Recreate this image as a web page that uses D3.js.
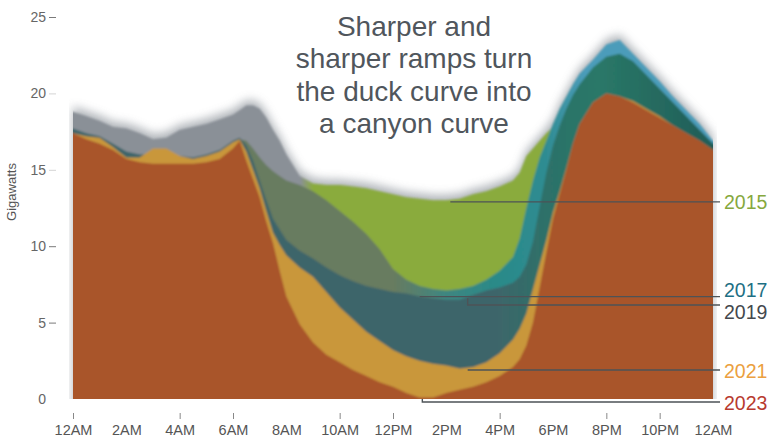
<!DOCTYPE html>
<html>
<head>
<meta charset="utf-8">
<script src="https://cdn.jsdelivr.net/npm/d3@7"></script>
<style>
  html, body { margin: 0; padding: 0; background: #ffffff; }
  svg { display: block; font-family: "Liberation Sans", Arial, sans-serif; }
</style>
</head>
<body>
<svg id="chart" width="776" height="441"></svg>
<script>
// ---------------- data ----------------
const hours = [0,0.5,1,1.5,2,2.5,3,3.5,4,4.5,5,5.5,6,
  6.25,6.5,6.75,7,7.25,7.5,7.75,8,
  8.5,9,9.5,10,10.5,11,11.5,12,12.5,13,13.5,14,14.5,15,15.5,16,16.5,
  16.75,17,17.25,17.5,17.75,18,18.25,18.5,18.75,19,
  19.5,20,20.5,21,21.5,22,22.5,23,23.5,24];

const load2015 = [18.8,18.5,18.2,17.8,17.7,17.4,17.0,17.1,17.6,17.8,18.0,18.3,18.6,
  18.9,19.2,19.2,19.0,18.4,17.6,16.9,16.0,
  14.6,14.1,14.0,14.0,13.9,13.8,13.6,13.4,13.2,13.1,13.0,13.0,13.1,13.4,13.6,13.9,14.3,
  14.8,15.9,16.4,16.9,17.4,17.8,18.0,18.4,18.8,19.2,
  20.0,20.5,20.6,20.3,19.8,19.2,18.6,18.0,17.3,16.5];

const load2017 = [17.4,17.1,16.9,16.4,15.9,15.7,15.7,15.6,15.6,15.5,15.7,16.0,16.6,
  17.0,16.9,16.4,15.8,15.3,14.9,14.6,14.3,
  14.0,13.6,13.0,12.3,11.6,10.8,9.8,8.5,7.8,7.4,7.2,7.1,7.2,7.4,7.8,8.4,9.3,
  10.5,12.5,14.3,15.8,16.9,18.0,19.0,19.8,20.6,21.3,
  22.2,23.2,23.5,22.6,21.7,20.8,19.8,18.9,18.0,16.9];

const load2019 = [17.7,17.4,17.2,16.7,16.2,16.0,16.0,15.9,15.9,15.8,16.0,16.3,16.9,
  17.1,16.6,15.6,14.3,13.0,11.8,11.1,10.4,
  9.7,9.2,8.6,8.1,7.7,7.4,7.2,7.0,6.9,6.7,6.6,6.5,6.5,6.8,7.1,7.3,7.6,
  8.0,8.8,10.3,12.6,14.8,16.6,17.9,19.0,19.9,20.6,
  21.7,22.4,22.6,22.1,21.2,20.3,19.4,18.5,17.6,16.7];

const load2021 = [17.4,17.2,17.1,16.5,15.8,15.8,16.4,16.4,15.9,15.7,15.9,16.2,16.8,
  17.0,16.2,15.0,13.8,12.3,10.9,10.1,9.4,
  8.6,8.0,7.0,6.0,5.2,4.4,3.8,3.2,2.8,2.5,2.3,2.2,2.0,2.1,2.4,3.0,3.9,
  4.6,5.6,7.2,8.8,10.4,12.2,13.6,15.1,16.7,18.0,
  19.4,20.0,19.8,19.5,19.0,18.5,17.9,17.4,16.9,16.3];

const load2023 = [17.4,17.0,16.7,16.3,15.7,15.5,15.4,15.4,15.4,15.4,15.5,15.7,16.4,
  16.9,15.6,14.4,13.2,11.6,10.2,8.4,6.7,
  4.9,3.7,2.9,2.4,1.9,1.5,1.1,0.8,0.4,0.1,0.1,0.4,0.6,0.8,1.1,1.5,2.1,
  2.6,3.5,5.0,7.3,9.6,11.8,13.4,15.0,16.7,18.0,
  19.4,20.0,19.8,19.4,18.9,18.4,17.9,17.4,16.9,16.3];

const years = ["2015","2017","2019","2021","2023"];
const seriesValues = [load2015, load2017, load2019, load2021, load2023];

const xTickHours = [0,2,4,6,8,10,12,14,16,18,20,22,24];
const xTickLabels = ["12AM","2AM","4AM","6AM","8AM","10AM","12PM","2PM","4PM","6PM","8PM","10PM","12AM"];
const xTickMarked = [true,false,true,true,false,true,true,false,true,false,true,true,false];
const yTickValues = [0,5,10,15,20,25];

// leader lines: anchor hour / anchor value / line value
const leaderHours = [14.15, 13.0, 14.8, 14.8, 13.1];
const leaderStart = [12.9, 6.7, 6.6, 1.9, 0];
const leaderLevel = [12.9, 6.7, 6.15, 1.9, -0.2];

const titleLines = ["Sharper and", "sharper ramps turn", "the duck curve into", "a canyon curve"];

// ---------------- styles ----------------
const fillStops = {
  "2015": [[0,"#8a9097"],[0.355,"#8a9097"],[0.375,"#8aab3e"],[1,"#8aab3e"]],
  "2017": [[0,"#687b60"],[0.5,"#687b60"],[0.58,"#3f8680"],[0.66,"#2a8a88"],[0.74,"#2f8c92"],[0.8,"#4b9cba"],[1,"#4b9cba"]],
  "2019": [[0,"#3e656a"],[0.66,"#3e656a"],[0.74,"#2d7169"],[0.82,"#2a7868"],[1,"#215d57"]],
  "2021": [[0,"#c9973b"],[1,"#c9973b"]],
  "2023": [[0,"#a9552b"],[1,"#a9552b"]]
};
const labelColors = ["#86a83e","#1e6f84","#44484d","#eba040","#b83a2f"];
const labelDy = [7, 0.5, 14, 8.5, 8];

// ---------------- chart ----------------
const svg = d3.select("#chart");
const x = d3.scaleLinear().domain([0, 24]).range([73, 713]);
const y = d3.scaleLinear().domain([0, 25]).range([399, 17]);

const defs = svg.append("defs");
years.forEach(yr => {
  const g = defs.append("linearGradient")
    .attr("id", "grad" + yr)
    .attr("gradientUnits", "userSpaceOnUse")
    .attr("x1", x(0)).attr("x2", x(24)).attr("y1", 0).attr("y2", 0);
  fillStops[yr].forEach(([o, c]) => g.append("stop").attr("offset", o).attr("stop-color", c));
});
defs.append("filter").attr("id", "shadow").attr("x", "-20%").attr("y", "-40%").attr("width", "140%").attr("height", "180%")
  .append("feGaussianBlur").attr("stdDeviation", 5);
defs.append("filter").attr("id", "soft").attr("x", "-5%").attr("y", "-5%").attr("width", "110%").attr("height", "110%")
  .append("feGaussianBlur").attr("stdDeviation", 0.9);
defs.append("filter").attr("id", "halo").attr("x", "-30%").attr("y", "-50%").attr("width", "160%").attr("height", "200%")
  .append("feGaussianBlur").attr("stdDeviation", 5);
defs.append("clipPath").attr("id", "plotClip").append("rect")
  .attr("x", x(0)).attr("y", 0).attr("width", x(24) - x(0)).attr("height", y(0));
defs.append("clipPath").attr("id", "shadowClip").append("rect")
  .attr("x", x(0) - 4).attr("y", 0).attr("width", x(24) - x(0) + 8).attr("height", y(0));

// rows for drawing
const rows = hours.map((h, i) => ({h, v: seriesValues.map(s => s[i])}));
// pad ends so blurred edges stay solid inside the clip
const padded = [{h: -0.4, v: rows[0].v}].concat(rows, [{h: 24.4, v: rows[rows.length - 1].v}]);

const maxArea = d3.area().x(d => x(d.h)).y0(y(-1)).y1(d => y(d3.max(d.v) + 0.35));
svg.append("g").attr("clip-path", "url(#shadowClip)")
  .append("path").datum(rows).attr("d", maxArea)
  .attr("fill", "#959ba2").attr("opacity", 0.75).attr("filter", "url(#shadow)");

// title halo
const titleG = svg.append("g");
const titleHalo = titleG.append("g").attr("filter", "url(#halo)");
titleLines.forEach((t, i) => {
  titleHalo.append("text").attr("x", 414).attr("y", 36 + i * 32.4)
    .attr("text-anchor", "middle").attr("font-size", 28)
    .attr("fill", "#fff").attr("stroke", "#fff").attr("stroke-width", 12).attr("stroke-linejoin", "round")
    .text(t);
});

const layers = svg.append("g").attr("clip-path", "url(#plotClip)")
  .append("g").attr("filter", "url(#soft)");
years.forEach((yr, k) => {
  const area = d3.area().x(d => x(d.h)).y0(y(-1)).y1(d => y(d.v[k])).curve(d3.curveLinear);
  layers.append("path").datum(padded).attr("d", area).attr("fill", "url(#grad" + yr + ")");
});

// title text
titleLines.forEach((t, i) => {
  titleG.append("text").attr("x", 414).attr("y", 36 + i * 32.4)
    .attr("text-anchor", "middle").attr("font-size", 28).attr("fill", "#50565c")
    .text(t);
});

// y axis
const yAxis = svg.append("g").attr("transform", "translate(56,0)")
  .call(d3.axisLeft(y).tickValues(yTickValues).tickSize(7).tickPadding(3));
yAxis.select(".domain").remove();
yAxis.selectAll(".tick line").attr("stroke", d => (d === 15 || d === 20) ? "#d4d4d4" : "#7a7a7a")
  .attr("opacity", d => d === 0 ? 0 : 1);
yAxis.selectAll(".tick text").attr("fill", "#666").attr("font-size", 14)
  .attr("font-family", "Liberation Sans, Arial, sans-serif");

svg.append("text").attr("transform", "translate(16,192) rotate(-90)")
  .attr("text-anchor", "middle").attr("font-size", 13).attr("fill", "#555").text("Gigawatts");

// x axis
const xAxis = svg.append("g").attr("transform", "translate(0,413)")
  .call(d3.axisBottom(x).tickValues(xTickHours).tickSize(6).tickPadding(6)
    .tickFormat((d, i) => xTickLabels[i]));
xAxis.select(".domain").remove();
xAxis.selectAll(".tick line").attr("stroke", "#888")
  .attr("opacity", (d, i) => xTickMarked[i] ? 1 : 0);
xAxis.selectAll(".tick text").attr("fill", "#555").attr("font-size", 14.5)
  .attr("font-family", "Liberation Sans, Arial, sans-serif");

// leaders + labels
years.forEach((yr, k) => {
  const p = d3.path();
  p.moveTo(x(leaderHours[k]), y(leaderStart[k]));
  p.lineTo(x(leaderHours[k]), y(leaderLevel[k]));
  p.lineTo(720, y(leaderLevel[k]));
  svg.append("path").attr("d", p.toString()).attr("fill", "none")
    .attr("stroke", "#4d5357").attr("stroke-width", 1.4);
  svg.append("text").attr("x", 724).attr("y", y(leaderLevel[k]) + labelDy[k])
    .attr("font-size", 19.5).attr("fill", labelColors[k]).text(yr);
});
</script>
</body>
</html>
